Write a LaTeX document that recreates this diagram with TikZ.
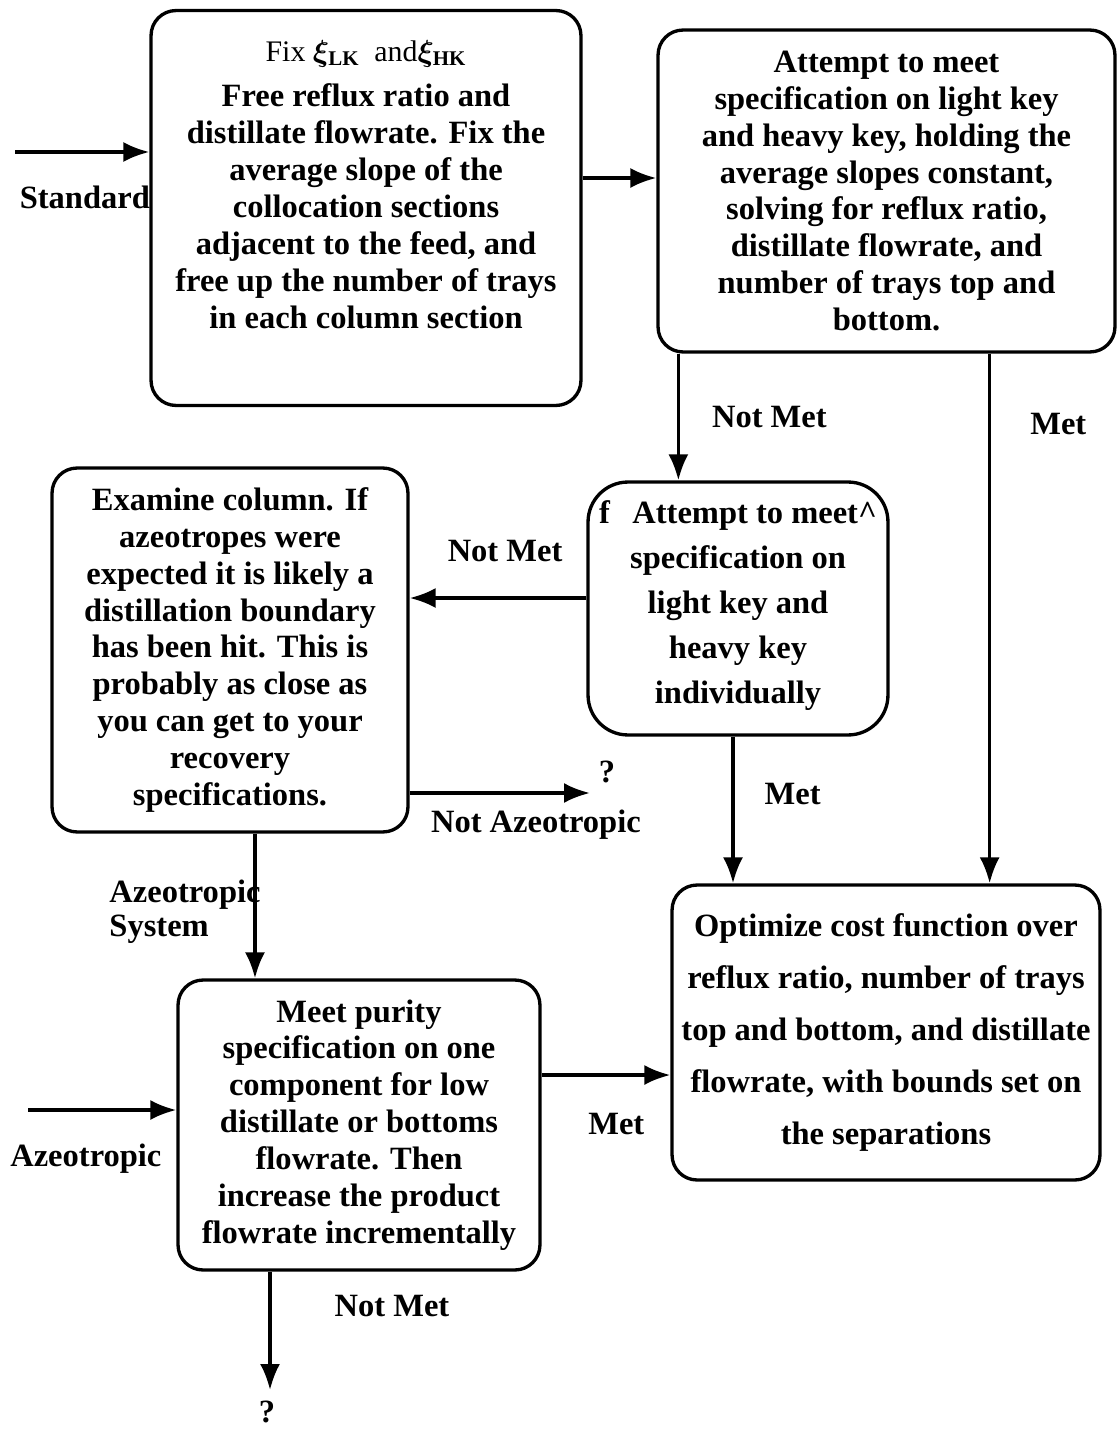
\documentclass[tikz,border=0pt]{standalone}
\usepackage{fontspec}
\setmainfont{Liberation Serif}
\usetikzlibrary{arrows.meta,positioning}

\begin{document}
\begin{tikzpicture}[x=0.02cm,y=-0.02cm,>={Latex[length=0.52cm,width=0.4cm]},
 font=\bfseries\fontsize{18.5}{21}\selectfont,
 box/.style={draw,line width=1.9pt,rounded corners=0.5cm,align=center,inner sep=0pt},
 lbl/.style={inner sep=0pt},
 arr/.style={->,line width=1.9pt}]
 \useasboundingbox (0,0) rectangle (1117,1429);
 \node[box,minimum width=8.6cm,minimum height=7.9cm] (fixkeys) at (366,208)
 {{\mdseries\fontsize{17}{20}\selectfont Fix {\boldmath$\xi_{\mathrm{LK}}$} \ and{\boldmath$\xi_{\mathrm{HK}}$}}\\[5pt]
 Free reflux ratio and\\distillate flowrate. Fix the\\average slope of the\\collocation sections\\
 adjacent to the feed, and\\free up the number of trays\\in each column section\\[6pt]\mbox{}};
 \node[box,minimum width=9.14cm,minimum height=6.44cm] (attempt) at (886.5,191)
 {Attempt to meet\\specification on light key\\and heavy key, holding the\\average slopes constant,\\
 solving for reflux ratio,\\distillate flowrate, and\\number of trays top and\\bottom.};
 \node[box,minimum width=7.12cm,minimum height=7.28cm] (examine) at (230,650)
 {Examine column. If\\azeotropes were\\expected it is likely a\\distillation boundary\\has been hit. This is\\
 probably as close as\\you can get to your\\recovery\\specifications.};
 \node[box,rounded corners=0.8cm,minimum width=6cm,minimum height=5.06cm,
 font=\bfseries\fontsize{18.5}{25.6}\selectfont] (individual) at (738,608.5)
 {f\hspace{0.45cm}Attempt to meet\textasciicircum\\specification on\\light key and\\heavy key\\individually\\[-18pt]\mbox{}};
 \node[box,minimum width=8.56cm,minimum height=5.9cm,
 font=\bfseries\fontsize{18.5}{29.5}\selectfont] (optimize) at (886,1032.5)
 {Optimize cost function over\\reflux ratio, number of trays\\top and bottom, and distillate\\
 flowrate, with bounds set on\\the separations};
 \node[box,minimum width=7.24cm,minimum height=5.8cm] (purity) at (359,1125)
 {Meet purity\\specification on one\\component for low\\distillate or bottoms\\flowrate. Then\\
 increase the product\\flowrate incrementally};
 \node[lbl] (q1) at (607,772) {?};
 \node[lbl] (q2) at (267,1412) {?};
 \coordinate (stdin) at (15,152);
 \coordinate (azin) at (28,1110);
 \coordinate (naz) at (590,793);
 \coordinate (nm) at (270,1390);
 \draw[arr] (stdin) -- node[lbl,below=0.64cm,pos=0.52]{Standard} (stdin -| fixkeys.west);
 \draw[arr] ([yshift=0.6cm]fixkeys.east) coordinate (a1) -- (a1 -| attempt.west);
 \draw[arr] ([xshift=0.44cm]attempt.south west) coordinate (a2) -- node[lbl,right=0.64cm]{Not Met} (a2 |- individual.north);
 \draw[arr] ([xshift=-2.54cm]attempt.south east) coordinate (a3) -- node[lbl,pos=0.133,right=0.78cm]{Met} (a3 |- optimize.north);
 \draw[arr] ([yshift=0.21cm]individual.west) coordinate (a4) -- node[lbl,pos=0.46,above=0.7cm]{Not Met} (a4 -| examine.east);
 \draw[arr] ([xshift=-0.1cm]individual.south) coordinate (a5) -- node[lbl,pos=0.39,right=0.6cm]{Met} (a5 |- optimize.north);
 \draw[arr] (examine.east |- naz) -- node[lbl,pos=0.7,below=0.3cm]{Not Azeotropic} (naz);
 \draw[arr] ([xshift=0.5cm]examine.south) coordinate (a6) -- node[lbl,pos=0.54,xshift=-1.4cm,align=left,
 font=\bfseries\fontsize{18.5}{19}\selectfont]{Azeotropic\\System} (a6 |- purity.north);
 \draw[arr] (azin) -- node[lbl,below=0.64cm,pos=0.39]{Azeotropic} (azin -| purity.west);
 \draw[arr] ([yshift=1cm]purity.east) coordinate (a7) -- node[lbl,pos=0.58,below=0.74cm]{Met} (a7 -| optimize.west);
 \draw[arr] ([xshift=-1.78cm]purity.south) coordinate (a8) -- node[lbl,pos=0.29,right=1.26cm]{Not Met} (a8 |- nm);
\end{tikzpicture}
\end{document}
